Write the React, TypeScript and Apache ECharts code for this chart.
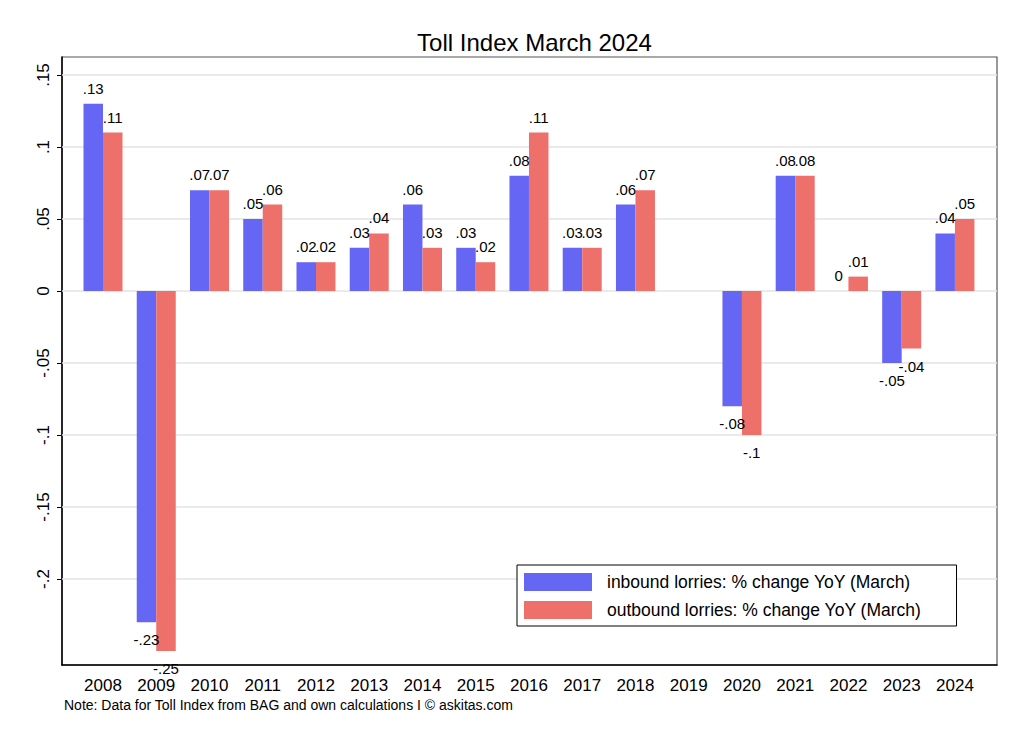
import React, { useEffect, useRef } from "react";
import * as echarts from "echarts";

const years = [2008, 2009, 2010, 2011, 2012, 2013, 2014, 2015, 2016, 2017, 2018, 2019, 2020, 2021, 2022, 2023, 2024];
const inbound: (number | null)[] = [0.13, -0.23, 0.07, 0.05, 0.02, 0.03, 0.06, 0.03, 0.08, 0.03, 0.06, null, -0.08, 0.08, 0, -0.05, 0.04];
const outbound: (number | null)[] = [0.11, -0.25, 0.07, 0.06, 0.02, 0.04, 0.03, 0.02, 0.11, 0.03, 0.07, null, -0.1, 0.08, 0.01, -0.04, 0.05];
const yTicks = [-0.2, -0.15, -0.1, -0.05, 0, 0.05, 0.1, 0.15];

const TITLE = "Toll Index March 2024";
const NOTE = "Note: Data for Toll Index from BAG and own calculations I \u00A9 askitas.com";
const NAME_IN = "inbound lorries: % change YoY (March)";
const NAME_OUT = "outbound lorries: % change YoY (March)";

const FONT = "'Liberation Sans', Arial, Helvetica, sans-serif";

function fmt(v: number): string {
  const r = Math.round(v * 100) / 100;
  if (r === 0) return "0";
  let s = String(Math.abs(r));
  if (s.startsWith("0")) s = s.slice(1);
  return (r < 0 ? "-" : "") + s;
}

function barData(vals: (number | null)[]) {
  const out: any[] = [];
  vals.forEach((v, i) => {
    if (v === null) return;
    out.push({
      value: [years[i], v],
      label: { position: v < 0 ? "bottom" : "top", distance: v < 0 ? 10 : 8 },
    });
  });
  return out;
}

export default function App() {
  const ref = useRef<HTMLDivElement>(null);
  useEffect(() => {
    document.body.style.margin = "0";
    const chart = echarts.init(ref.current!, null, { renderer: "svg" });
    const barLabel = {
      show: true,
      color: "#000",
      fontSize: 15,
      fontFamily: FONT,
      formatter: (p: any) => fmt(p.value[1]),
    };
    chart.setOption({
      animation: false,
      backgroundColor: "#fff",
      textStyle: { fontFamily: FONT },
      title: {
        text: TITLE,
        left: 529.5,
        textAlign: "center",
        top: 25,
        textStyle: { fontSize: 24, fontWeight: "normal", color: "#000", fontFamily: FONT },
      },
      grid: {
        left: 62,
        right: 27,
        top: 57,
        bottom: 80,
        show: true,
        borderColor: "#555",
        borderWidth: 1.2,
        backgroundColor: "transparent",
      },
      legend: {
        orient: "vertical",
        left: 517,
        top: 565,
        itemWidth: 68,
        itemHeight: 18,
        itemGap: 10,
        padding: [8, 35, 7, 7],
        borderColor: "#000",
        borderWidth: 1,
        backgroundColor: "#fff",
        icon: "rect",
        z: 10,
        textStyle: { fontSize: 17.5, color: "#000", fontFamily: FONT, padding: [0, 0, 0, 10] },
        data: [NAME_IN, NAME_OUT],
      },
      xAxis: {
        type: "value",
        min: 2007.23,
        max: 2024.79,
        axisLine: { show: true, onZero: false, lineStyle: { color: "#000", width: 1.5 } },
        axisTick: { show: false },
        splitLine: { show: false },
        axisLabel: {
          customValues: years,
          fontSize: 17,
          color: "#000",
          margin: 12,
          fontFamily: FONT,
          formatter: (v: number) => String(Math.round(v)),
        },
      },
      yAxis: {
        type: "value",
        min: -0.2597,
        max: 0.1625,
        axisLine: { show: true, lineStyle: { color: "#000", width: 1.5 } },
        axisTick: { show: true, customValues: yTicks, length: 5, lineStyle: { color: "#000", width: 1 } },
        splitLine: { show: false },
        axisLabel: {
          customValues: yTicks,
          rotate: 90,
          fontSize: 17,
          color: "#000",
          margin: 10,
          fontFamily: FONT,
          formatter: (v: number) => fmt(v),
        },
      },
      series: [
        {
          type: "line",
          name: "grid",
          data: [],
          z: 1,
          silent: true,
          markLine: {
            silent: true,
            symbol: "none",
            z: 1,
            label: { show: false },
            lineStyle: { color: "#e3e3e3", width: 1.5, type: "solid" },
            data: yTicks.map((v) => ({ yAxis: v })),
          },
        },
        {
          type: "bar",
          name: NAME_IN,
          data: barData(inbound),
          barWidth: 19.5,
          barGap: "0%",
          z: 3,
          itemStyle: { color: "#6666f5" },
          label: barLabel,
        },
        {
          type: "bar",
          name: NAME_OUT,
          data: barData(outbound),
          barWidth: 19.5,
          barGap: "0%",
          z: 3,
          itemStyle: { color: "#ed706b" },
          label: barLabel,
        },
      ],
      graphic: [
        {
          type: "text",
          left: 64,
          top: 698,
          style: { text: NOTE, fontSize: 14, fill: "#000", fontFamily: FONT },
        },
      ],
    });
    return () => chart.dispose();
  }, []);
  return <div ref={ref} style={{ width: 1024, height: 745 }} />;
}
